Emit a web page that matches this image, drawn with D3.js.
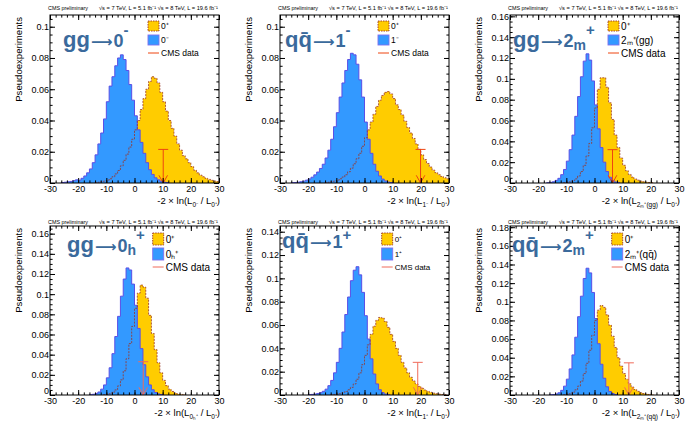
<!DOCTYPE html>
<html><head><meta charset="utf-8">
<script src="https://cdn.jsdelivr.net/npm/d3@7"></script>
<style>body{margin:0;background:#fff} svg{display:block;font-family:"Liberation Sans",Arial,sans-serif}</style>
</head><body>
<svg id="c" width="692" height="427"></svg>
<script>
// ---------------- data ----------------
const xTicks = [-30, -20, -10, 0, 10, 20, 30];
const binWidth = 1;
const titlePrefix = ["gg", "qq\u0304", "gg", "gg", "qq\u0304", "qq\u0304"];
const titleArrow  = "⟶";
const titleDigit  = ["0", "1", "2", "0", "1", "2"];
const titleSub    = ["", "", "m", "h", "", "m"];
const titleSup    = ["-", "-", "+", "+", "+", "+"];
const altLabel    = ["0⁻", "1⁻", "2ₘ⁺(gg)", "0ₕ⁺", "1⁺", "2ₘ⁺(qq\u0304)"];
const smLabel     = "0⁺";
const dataLabel   = "CMS data";
const headerLeft  = "CMS preliminary";
const headerRight = "√s = 7 TeV, L = 5.1 fb⁻¹  √s = 8 TeV, L = 19.6 fb⁻¹";
const yTitle      = "Pseudoexperiments";
const yMax        = [0.1075, 0.1075, 0.1613, 0.1676, 0.1449, 0.1813];
const obsValue    = [10.2, 19.9, 6.4, 3.1, 18.9, 12.2];
const obsBar      = [0.0215, 0.0215, 0.032, 0.033, 0.028, 0.0345];
const altStart    = [-26, -26, -17, -16, -20, -16];
const smStart     = [-14, -14, -11, -11, -12, -11];

const alt1 = [0.0003,0.0005,0.0008,0.001,0.0015,0.002,0.0018,0.003,0.0045,0.0065,0.009,0.013,0.018,0.025,0.032,0.041,0.052,0.062,0.068,0.075,0.080,0.082,0.079,0.072,0.063,0.053,0.043,0.034,0.026,0.019,0.013,0.0085,0.0055,0.0033,0.002,0.0011,0.0006,0.0003];
const sm1  = [0.0003,0.0005,0.0008,0.0012,0.0018,0.0027,0.004,0.0058,0.008,0.011,0.0145,0.0185,0.023,0.028,0.034,0.040,0.047,0.054,0.060,0.065,0.068,0.067,0.064,0.058,0.052,0.046,0.040,0.035,0.030,0.025,0.021,0.0175,0.0155,0.013,0.0105,0.0082,0.0065,0.005,0.004,0.003,0.0023,0.0017,0.0012,0.0009];
const alt2 = [0.0002,0.0003,0.0005,0.0008,0.0012,0.0018,0.0026,0.0037,0.0052,0.007,0.0093,0.012,0.016,0.021,0.028,0.036,0.045,0.055,0.064,0.072,0.079,0.083,0.082,0.076,0.066,0.055,0.039,0.028,0.019,0.012,0.0075,0.0045,0.0025,0.0013,0.0006,0.0003];
const sm2  = [0.0003,0.0005,0.0008,0.0012,0.0018,0.0027,0.0038,0.0053,0.0072,0.0095,0.0123,0.0155,0.019,0.0235,0.029,0.034,0.039,0.044,0.049,0.053,0.056,0.058,0.0585,0.057,0.054,0.050,0.047,0.0435,0.0395,0.0355,0.032,0.0285,0.025,0.0215,0.018,0.015,0.0125,0.0102,0.0082,0.0066,0.0053,0.0042,0.0034,0.0027];
const alt3 = [0.0003,0.0006,0.0012,0.0025,0.0045,0.008,0.013,0.021,0.032,0.046,0.064,0.083,0.102,0.117,0.124,0.118,0.098,0.075,0.052,0.034,0.020,0.011,0.0055,0.0025,0.001,0.0004];
const sm3  = [0.0003,0.0006,0.0012,0.0023,0.004,0.0068,0.011,0.017,0.026,0.038,0.053,0.072,0.090,0.101,0.101,0.092,0.077,0.061,0.046,0.034,0.024,0.017,0.0118,0.0082,0.0057,0.0039,0.0027,0.0018,0.0012,0.0008,0.0005,0.0003];
const alt4 = [0.0003,0.0007,0.0015,0.003,0.0058,0.010,0.017,0.027,0.041,0.058,0.078,0.098,0.115,0.126,0.124,0.110,0.089,0.066,0.046,0.030,0.018,0.010,0.0052,0.0025,0.0011,0.0004];
const sm4  = [0.0003,0.0007,0.0014,0.0028,0.005,0.009,0.015,0.024,0.036,0.051,0.068,0.086,0.101,0.109,0.107,0.096,0.079,0.061,0.045,0.032,0.022,0.0145,0.0093,0.0058,0.0035,0.002,0.0011,0.0006,0.0003];
const alt5 = [0.0003,0.0005,0.0008,0.0013,0.002,0.0032,0.005,0.008,0.0125,0.019,0.028,0.040,0.054,0.069,0.084,0.098,0.107,0.110,0.103,0.088,0.068,0.048,0.031,0.018,0.0095,0.0045,0.002,0.0008,0.0003];
const sm5  = [0.0003,0.0005,0.0008,0.0013,0.002,0.003,0.0045,0.0065,0.0095,0.0135,0.019,0.026,0.034,0.043,0.052,0.059,0.064,0.0665,0.066,0.063,0.058,0.052,0.046,0.040,0.034,0.028,0.0232,0.019,0.0152,0.012,0.0095,0.0074,0.0057,0.0043,0.0032,0.0023,0.0016,0.0011,0.0007,0.0004,0.0003];
const alt6 = [0.0002,0.0005,0.0011,0.0024,0.005,0.0095,0.017,0.028,0.043,0.062,0.084,0.106,0.125,0.136,0.131,0.110,0.082,0.055,0.033,0.018,0.0088,0.0038,0.0015,0.0005];
const sm6  = [0.0003,0.0007,0.0015,0.003,0.0055,0.0095,0.015,0.023,0.034,0.048,0.064,0.080,0.091,0.096,0.094,0.086,0.075,0.063,0.051,0.040,0.031,0.023,0.017,0.012,0.0085,0.0058,0.0039,0.0025,0.0016,0.001,0.0006,0.0003];
const altSeries = [alt1, alt2, alt3, alt4, alt5, alt6];
const smSeries  = [sm1, sm2, sm3, sm4, sm5, sm6];

// ---------------- layout ----------------
const svg = d3.select("#c");
const colX = [50, 280, 510], frameW = 169;
const rowTop = [15, 226], rowBot = [183, 395];
const titlePos = [[63,47],[285,47],[513,47],[67,252],[282,248],[512,252]];
const supShift = [12, 12, 12, 12, 8, 12];
const legX = [98, 98, 98, 102.7, 101.7, 101.7];
const legFont = [8.5, 8.5, 10, 10, 8, 10];
const dataColor = ["#ee4411", "#ee4411", "#ee4411", "#f06a5a", "#f06a5a", "#f06a5a"];
const yellow = "#ffcc00", blue = "#3399ff";

function histPoints(start, vals) {
  const pts = [[start, 0]];
  vals.forEach((v, i) => { pts.push([start + i * binWidth, v]); pts.push([start + (i + 1) * binWidth, v]); });
  pts.push([start + vals.length * binWidth, 0]);
  return pts;
}
const yFmt = d => d === 0 ? "0" : String(+d.toFixed(3));

for (let p = 0; p < 6; p++) {
  const col = p % 3, row = Math.floor(p / 3);
  const L = colX[col], R = L + frameW, T = rowTop[row], B = rowBot[row];
  const x = d3.scaleLinear().domain([-30, 30]).range([L, R]);
  const y = d3.scaleLinear().domain([0, yMax[p]]).range([B, T]);
  const g = svg.append("g");
  const clipId = "clip" + p;
  g.append("clipPath").attr("id", clipId).append("rect").attr("x", L).attr("y", T).attr("width", R - L).attr("height", B - T);
  const line = d3.line().x(d => x(d[0])).y(d => y(d[1]));
  const plot = g.append("g").attr("clip-path", `url(#${clipId})`);
  const smPts = histPoints(smStart[p], smSeries[p]);
  const altPts = histPoints(altStart[p], altSeries[p]);
  plot.append("path").attr("d", line(smPts)).attr("fill", yellow);
  plot.append("path").attr("d", line(altPts)).attr("fill", blue);
  plot.append("path").attr("d", line(altPts)).attr("fill", "none").attr("stroke", "#5a4ee6").attr("stroke-width", 1);
  plot.append("path").attr("d", line(smPts)).attr("fill", "none").attr("stroke", "#9a3326").attr("stroke-width", 0.8).attr("stroke-dasharray", "2,1.2");

  // observed data marker
  const ox = x(obsValue[p]), oy = y(obsBar[p]), ob = y(0);
  const dc = dataColor[p];
  const mk = g.append("g").attr("stroke", dc).attr("stroke-width", 1).attr("fill", "none");
  mk.append("line").attr("x1", ox).attr("x2", ox).attr("y1", ob).attr("y2", oy);
  mk.append("line").attr("x1", ox - 5).attr("x2", ox + 5).attr("y1", oy).attr("y2", oy);
  mk.append("path").attr("d", `M${ox - 4.3},${ob - 7.7}L${ox},${ob}L${ox + 4.3},${ob - 7.7}`);

  // axes (ticks inside)
  const yMajor = d3.range(0, yMax[p] + 1e-9, 0.02).map(v => +v.toFixed(3));
  const yMinor = d3.range(0, yMax[p], 0.005).map(v => +v.toFixed(4));
  const xMinor = d3.range(-30, 30.01, 2);
  const axStyle = sel => { sel.select(".domain").remove(); sel.selectAll("line").attr("stroke", "#000"); sel.selectAll("text").attr("font-size", 9).attr("font-family", "Liberation Sans, Arial, sans-serif").attr("fill", "#000"); };
  g.append("g").attr("transform", `translate(0,${B})`).call(d3.axisBottom(x).tickValues(xMinor).tickSize(-2.6).tickFormat("")).call(axStyle);
  g.append("g").attr("transform", `translate(0,${B})`).call(d3.axisBottom(x).tickValues(xTicks).tickSize(-5).tickPadding(3).tickFormat(d => String(d))).call(axStyle);
  g.append("g").attr("transform", `translate(0,${T})`).call(d3.axisTop(x).tickValues(xMinor).tickSize(-2.6).tickFormat("")).call(axStyle);
  g.append("g").attr("transform", `translate(0,${T})`).call(d3.axisTop(x).tickValues(xTicks).tickSize(-5).tickFormat("")).call(axStyle);
  g.append("g").attr("transform", `translate(${L},0)`).call(d3.axisLeft(y).tickValues(yMinor).tickSize(-2.6).tickFormat("")).call(axStyle);
  const ya = g.append("g").attr("transform", `translate(${L},0)`).call(d3.axisLeft(y).tickValues(yMajor).tickSize(-5).tickPadding(1).tickFormat(yFmt)).call(axStyle);
  ya.selectAll(".tick").filter(d => d === 0).select("text").attr("dy", "-0.12em");
  g.append("g").attr("transform", `translate(${R},0)`).call(d3.axisRight(y).tickValues(yMinor).tickSize(-2.6).tickFormat("")).call(axStyle);
  g.append("g").attr("transform", `translate(${R},0)`).call(d3.axisRight(y).tickValues(yMajor).tickSize(-5).tickFormat("")).call(axStyle);
  g.append("rect").attr("x", L).attr("y", T).attr("width", R - L).attr("height", B - T).attr("fill", "none").attr("stroke", "#000").attr("stroke-width", 1);

  // header
  const hy = T - (row ? 2.5 : 5);
  g.append("text").attr("x", L - 2).attr("y", hy).attr("font-size", 5.5).attr("textLength", 40).attr("lengthAdjust", "spacingAndGlyphs").text(headerLeft);
  g.append("text").attr("x", R - 120).attr("y", hy).attr("font-size", 5.5).attr("textLength", 119).attr("lengthAdjust", "spacingAndGlyphs").text(headerRight);

  // y title
  g.append("text").attr("transform", `translate(${L - 28},${T + 2}) rotate(-90)`).attr("text-anchor", "end").attr("font-size", 9.6).text(yTitle);

  // x title
  const xt = g.append("text").attr("x", R + 1).attr("y", B + 21).attr("text-anchor", "end").attr("font-size", 9.5);
  xt.append("tspan").text("-2 × ln(L");
  xt.append("tspan").attr("font-size", 6.5).attr("dy", 2.5).text(altLabel[p]);
  xt.append("tspan").attr("dy", -2.5).text(" / L");
  xt.append("tspan").attr("font-size", 6.5).attr("dy", 2.5).text(smLabel);
  xt.append("tspan").attr("dy", -2.5).text(")");

  // legend
  const lx = L + legX[p];
  const bt = row ? [T + 7, T + 22] : [T + 6, T + 20];
  const bh = row ? 12 : 10;
  const lineY = row ? T + 41 : T + 38;
  const fs = legFont[p];
  g.append("rect").attr("x", lx).attr("y", bt[0]).attr("width", 11).attr("height", bh).attr("fill", yellow).attr("stroke", "#9a3326").attr("stroke-dasharray", "1.5,1").attr("stroke-width", 0.9);
  g.append("rect").attr("x", lx).attr("y", bt[1]).attr("width", 11).attr("height", bh).attr("fill", blue).attr("stroke", "#7f6ff0").attr("stroke-width", 0.9);
  g.append("line").attr("x1", lx).attr("x2", lx + 11).attr("y1", lineY).attr("y2", lineY).attr("stroke", dc).attr("stroke-width", 1);
  g.append("text").attr("x", lx + 13).attr("y", bt[0] + bh / 2 + fs * 0.35).attr("font-size", fs).text(smLabel);
  g.append("text").attr("x", lx + 13).attr("y", bt[1] + bh / 2 + fs * 0.35).attr("font-size", fs).text(altLabel[p]);
  g.append("text").attr("x", lx + 13).attr("y", lineY + fs * 0.35).attr("font-size", fs).text(dataLabel);

  // big process title
  const tt = g.append("text").attr("x", titlePos[p][0]).attr("y", titlePos[p][1]).attr("font-size", 22).attr("font-weight", "bold").attr("fill", "#3a6a9c");
  tt.append("tspan").text(titlePrefix[p]);
  tt.append("tspan").attr("font-family", "DejaVu Sans").attr("font-weight", "bold").attr("font-size", 15).attr("dx", 1).text(titleArrow);
  tt.append("tspan").attr("font-size", 18).attr("dx", 1).text(titleDigit[p]);
  let down = 0;
  if (titleSub[p]) { tt.append("tspan").attr("font-size", 14).attr("dy", 3).text(titleSub[p]); down = 3; }
  tt.append("tspan").attr("font-size", 15).attr("dy", -(down + supShift[p])).text(titleSup[p]);
}
</script>
</body></html>
